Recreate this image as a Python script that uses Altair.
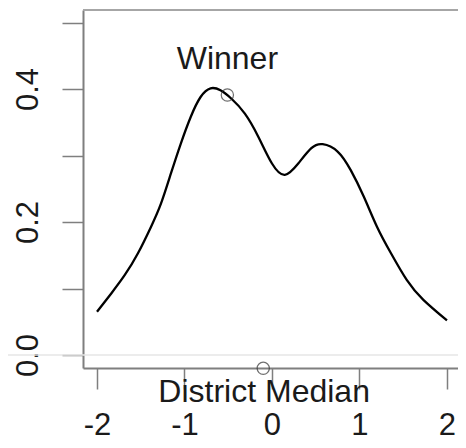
import altair as alt
import pandas as pd

# density curve
curve_x = [-2.0, -1.835, -1.684, -1.532, -1.382, -1.268, -1.155, -1.042, -0.929,
           -0.816, -0.702, -0.589, -0.46, -0.31, -0.155, 0.0, 0.147, 0.30, 0.45,
           0.58, 0.75, 0.90, 1.05, 1.20, 1.36, 1.54, 1.73, 2.0]
curve_y = [0.065, 0.093, 0.120, 0.153, 0.193, 0.228, 0.273, 0.318, 0.358,
           0.388, 0.401, 0.398, 0.385, 0.363, 0.328, 0.288, 0.271, 0.288, 0.311,
           0.317, 0.306, 0.278, 0.238, 0.193, 0.153, 0.113, 0.083, 0.052]

point_x = [-0.51, -0.10]
point_y = [0.391, -0.02]

label_text = ["Winner", "District Median"]
label_x = [-0.51, -0.09]
label_y = [0.43, -0.0707]

x_ticks = [-2, -1, 0, 1, 2]
y_ticks = [0.0, 0.1, 0.2, 0.3, 0.4, 0.5]

X_DOMAIN = [-2.16, 2.126]
Y_DOMAIN = [-0.0195, 0.5188]

W, H = 375, 358
PAD_L = 75

FONT = "Liberation Sans"
FRAME = "#7f7f7f"

curve = pd.DataFrame({"x": curve_x, "y": curve_y})
points = pd.DataFrame({"x": point_x, "y": point_y})
labels = pd.DataFrame({"x": label_x, "y": label_y, "t": label_text})

xs = alt.Scale(domain=X_DOMAIN, nice=False, zero=False)
ys = alt.Scale(domain=Y_DOMAIN, nice=False, zero=False)

x_axis = alt.Axis(values=x_ticks, labelExpr="'' + datum.value", title=None,
                  grid=False, domainColor=FRAME, domainWidth=2, tickColor=FRAME,
                  tickWidth=1.5, tickSize=21, labelFont=FONT, labelFontSize=31,
                  labelColor="#1a1a1a", labelBaseline="alphabetic", labelPadding=45,
                  labelFlush=False, labelOverlap=False)
y_axis = alt.Axis(values=y_ticks,
                  labelExpr="round(datum.value*10) % 2 == 0 ? format(datum.value, '.1f') : ''",
                  title=None, grid=False, domainColor=FRAME, domainWidth=2,
                  tickColor=FRAME, tickWidth=1.5, tickSize=21, labelFont=FONT,
                  labelFontSize=31, labelColor="#1a1a1a", labelAngle=270,
                  labelAlign="center", labelBaseline="alphabetic", labelPadding=25,
                  labelFlush=False, labelOverlap=False)

zero_line = alt.Chart(pd.DataFrame({"y": [0.0]})).mark_rule(
    color="#e6e6e6", strokeWidth=1.5
).encode(y=alt.Y("y:Q", scale=ys, axis=y_axis), x=alt.value(-PAD_L), x2=alt.value(W))

top_line = alt.Chart(pd.DataFrame({"y": [Y_DOMAIN[1]]})).mark_rule(
    color="#a6a6a6", strokeWidth=2
).encode(y=alt.Y("y:Q", scale=ys), x=alt.value(0), x2=alt.value(W))

line = alt.Chart(curve).mark_line(
    color="#000000", strokeWidth=2.3, interpolate="natural"
).encode(x=alt.X("x:Q", scale=xs, axis=x_axis), y=alt.Y("y:Q", scale=ys))

pts = alt.Chart(points).mark_point(
    shape="circle", size=150, filled=False, color="#333333", strokeWidth=1.2
).encode(x=alt.X("x:Q", scale=xs), y=alt.Y("y:Q", scale=ys))

txt = alt.Chart(labels).mark_text(
    font=FONT, fontSize=32, color="#1a1a1a", align="center", baseline="alphabetic"
).encode(x=alt.X("x:Q", scale=xs), y=alt.Y("y:Q", scale=ys), text="t:N")

chart = alt.layer(zero_line, top_line, line, pts, txt).properties(
    width=W, height=H,
    autosize=alt.AutoSizeParams(type="none"),
    padding={"left": PAD_L, "top": 2, "right": 0, "bottom": 72},
    background="white",
).configure_view(stroke=None)

chart.save("out.html", embed_options={"renderer": "svg", "actions": False})
